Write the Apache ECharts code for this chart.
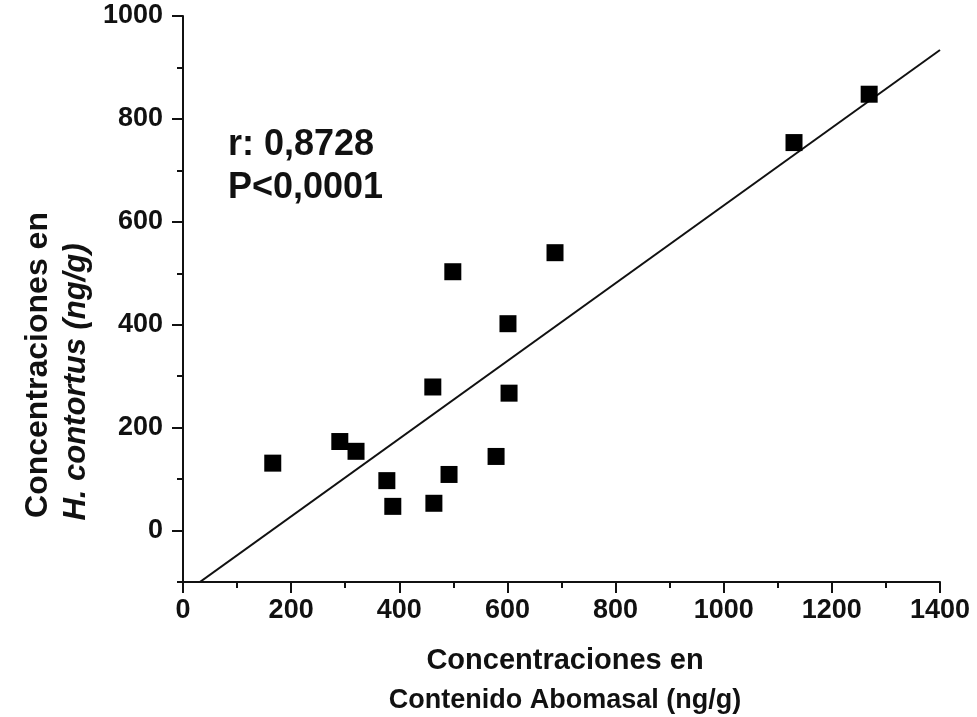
<!DOCTYPE html>
<html>
<head>
<meta charset="utf-8">
<script src="https://cdn.jsdelivr.net/npm/echarts@6/dist/echarts.min.js"></script>
<style>
html,body{margin:0;padding:0;background:#fff;}
#chart{width:977px;height:717px;}
</style>
</head>
<body>
<div id="chart"></div>
<script>
// Data
var abomasal = [166, 290, 320, 377, 388, 464, 492, 462, 499, 579, 603, 601, 688, 1130, 1269];
var hcontortus = [131, 173, 154, 97, 47, 53, 109, 279, 503, 144, 267, 402, 540, 754, 848];
var fitX = [26, 1400];
var fitY = [-104, 934];
var yMajorTicks = [0, 200, 400, 600, 800, 1000];
var annotR = 'r: 0,8728';
var annotP = 'P<0,0001';

var points = abomasal.map(function (x, i) { return [x, hcontortus[i]]; });
var fitLine = fitX.map(function (x, i) { return [x, fitY[i]]; });

var FONT = '"Liberation Sans", Arial, sans-serif';
var plain = function (v) { return String(v); };
var chart = echarts.init(document.getElementById('chart'), null, {renderer: 'canvas'});

var option = {
  backgroundColor: '#ffffff',
  animation: false,
  grid: {left: 183, right: 37, top: 16, bottom: 135, containLabel: false},
  xAxis: {
    type: 'value', min: 0, max: 1400, interval: 200,
    axisLine: {show: true, onZero: false, lineStyle: {color: '#111', width: 2}},
    axisTick: {show: true, inside: false, length: 11, lineStyle: {color: '#111', width: 2}},
    minorTick: {show: true, splitNumber: 2, length: 6, lineStyle: {color: '#111', width: 2}},
    axisLabel: {color: '#111', fontFamily: FONT, fontWeight: 'bold', fontSize: 27, margin: 15, formatter: plain},
    splitLine: {show: false}
  },
  yAxis: [{
    type: 'value', min: -100, max: 1000,
    axisLine: {show: true, onZero: false, lineStyle: {color: '#111', width: 2}},
    axisTick: {show: true, inside: false, length: 11, customValues: yMajorTicks, lineStyle: {color: '#111', width: 2}},
    axisLabel: {color: '#111', fontFamily: FONT, fontWeight: 'bold', fontSize: 27, margin: 20, customValues: yMajorTicks, formatter: plain},
    splitLine: {show: false}
  }, {
    type: 'value', min: -100, max: 1000, interval: 100, position: 'left',
    axisLine: {show: false},
    axisTick: {show: true, inside: false, length: 6, lineStyle: {color: '#111', width: 2}},
    axisLabel: {show: false},
    splitLine: {show: false}
  }],
  series: [{
    type: 'line', data: fitLine, yAxisIndex: 0, symbol: 'none', silent: true,
    lineStyle: {color: '#111', width: 2}, z: 2
  }, {
    type: 'scatter', data: points, yAxisIndex: 0, symbol: 'rect', symbolSize: 17,
    itemStyle: {color: '#000', opacity: 1}, z: 3
  }],
  graphic: [
    {type: 'text', left: 228, top: 127, style: {text: annotR, font: 'bold 36px ' + FONT, fill: '#111'}},
    {type: 'text', left: 228, top: 170, style: {text: annotP, font: 'bold 36px ' + FONT, fill: '#111'}},
    {type: 'text', x: 565, y: 661, style: {text: 'Concentraciones en', font: 'bold 29px ' + FONT, fill: '#111', align: 'center', verticalAlign: 'middle'}},
    {type: 'text', x: 565, y: 701, style: {text: 'Contenido Abomasal (ng/g)', font: 'bold 27px ' + FONT, fill: '#111', align: 'center', verticalAlign: 'middle'}},
    {type: 'text', x: 38, y: 365, rotation: Math.PI / 2, style: {text: 'Concentraciones en', font: 'bold 32px ' + FONT, fill: '#111', align: 'center', verticalAlign: 'middle'}},
    {type: 'text', x: 76, y: 382, rotation: Math.PI / 2, style: {text: 'H. contortus (ng/g)', font: 'italic bold 31px ' + FONT, fill: '#111', align: 'center', verticalAlign: 'middle'}}
  ]
};
chart.setOption(option);
</script>
</body>
</html>
